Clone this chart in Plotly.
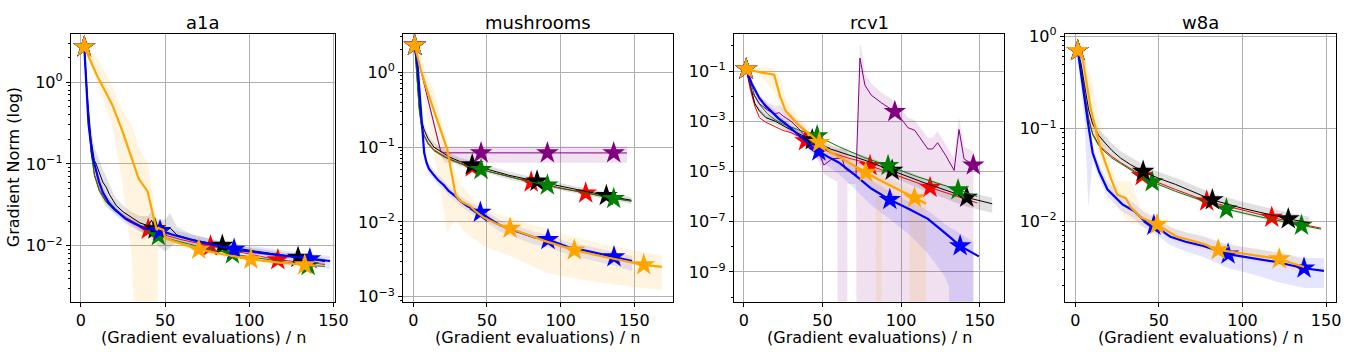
import plotly.graph_objects as go

# ---------------- a1a ----------------
a1a_red_x = [2, 4, 6, 8, 11, 15, 20, 27, 35, 40, 47, 60, 77, 95, 117, 135, 145]
a1a_red_y = [2.7, 0.5, 0.15, 0.075, 0.048, 0.035, 0.028, 0.022, 0.0178, 0.0158, 0.014, 0.0118, 0.0099, 0.0083, 0.0067, 0.0062, 0.0059]
a1a_red_stars = [0, 9, 12, 14]

a1a_green_x = [2, 4, 6, 8, 11, 15, 20, 27, 35, 40, 46, 60, 77, 90, 117, 135, 145]
a1a_green_y = [2.7, 0.48, 0.14, 0.072, 0.046, 0.034, 0.027, 0.0215, 0.0172, 0.0152, 0.0132, 0.011, 0.0091, 0.0079, 0.0065, 0.0057, 0.0056]
a1a_green_stars = [0, 10, 13, 15]

a1a_black_x = [2, 4, 6, 8, 9, 11, 13, 15, 17, 19, 21, 25, 30, 35, 40, 42, 44, 47, 50, 53, 57, 65, 84, 100, 129, 145]
a1a_black_y = [2.7, 0.6, 0.2, 0.11, 0.1, 0.075, 0.06, 0.052, 0.042, 0.036, 0.031, 0.026, 0.022, 0.019, 0.0175, 0.0205, 0.016, 0.0145, 0.0145, 0.0165, 0.0135, 0.012, 0.0101, 0.0088, 0.0072, 0.0064]
a1a_black_lo = [2.6, 0.45, 0.14, 0.07, 0.06, 0.045, 0.035, 0.03, 0.028, 0.026, 0.024, 0.021, 0.018, 0.015, 0.013, 0.012, 0.011, 0.0095, 0.0085, 0.0095, 0.011, 0.0105, 0.0093, 0.0081, 0.0066, 0.0059]
a1a_black_hi = [2.8, 0.8, 0.28, 0.16, 0.14, 0.11, 0.085, 0.07, 0.055, 0.045, 0.038, 0.031, 0.026, 0.023, 0.023, 0.027, 0.022, 0.02, 0.021, 0.025, 0.017, 0.014, 0.011, 0.0095, 0.0078, 0.007]
a1a_black_stars = [0, 16, 22, 24]

a1a_blue_x = [2, 3, 4.5, 6.8, 9, 10.8, 13, 16.6, 20, 26.5, 32, 38, 47, 55, 70, 91, 110, 136, 148]
a1a_blue_y = [2.7, 1.2, 0.31, 0.124, 0.08, 0.06, 0.045, 0.0334, 0.028, 0.0213, 0.0185, 0.0162, 0.0153, 0.0135, 0.0112, 0.009, 0.008, 0.0069, 0.0065]
a1a_blue_lo = [2.6, 1.0, 0.27, 0.105, 0.068, 0.051, 0.039, 0.029, 0.024, 0.0185, 0.016, 0.014, 0.0132, 0.0116, 0.0093, 0.0075, 0.0066, 0.0057, 0.0052]
a1a_blue_hi = [2.8, 1.4, 0.36, 0.145, 0.093, 0.07, 0.052, 0.038, 0.032, 0.0245, 0.021, 0.0186, 0.0176, 0.0156, 0.013, 0.0106, 0.0094, 0.0079, 0.0075]
a1a_blue_stars = [0, 12, 15, 17]

a1a_orange_x = [2, 10, 18.6, 24.5, 30, 34.3, 39.6, 45, 46, 49, 50, 60, 70, 85, 101, 118, 133, 140]
a1a_orange_y = [2.7, 1.15, 0.53, 0.257, 0.12, 0.066, 0.046, 0.0155, 0.0165, 0.0155, 0.0123, 0.0105, 0.009, 0.0078, 0.0068, 0.0062, 0.0058, 0.0057]
a1a_orange_lo = [2.6, 0.9, 0.3, 0.06, 0.008, 1e-4, 1e-4, 1e-4, 0.0095, 0.011, 0.0105, 0.0095, 0.0083, 0.0072, 0.0063, 0.0057, 0.0053, 0.0052]
a1a_orange_hi = [2.9, 1.9, 0.9, 0.45, 0.31, 0.16, 0.104, 0.02, 0.022, 0.019, 0.014, 0.0115, 0.0098, 0.0085, 0.0074, 0.0067, 0.0063, 0.0062]
a1a_orange_stars = [0, 12, 14, 16]

# ---------------- mushrooms ----------------
mush_red_x = [1, 2.5, 4, 5.5, 7.4, 10, 14, 20, 25, 32, 40, 50, 65, 80, 100, 117, 135, 148]
mush_red_y = [2.3, 1.0, 0.34, 0.2, 0.145, 0.115, 0.092, 0.078, 0.069, 0.061, 0.054, 0.048, 0.04, 0.034, 0.028, 0.0243, 0.0212, 0.019]
mush_red_stars = [0, 10, 13, 15]

mush_green_x = [1, 2.5, 4, 5.5, 7.4, 10, 14, 20, 25, 32, 40, 46, 65, 80, 91, 117, 136, 148]
mush_green_y = [2.3, 0.9, 0.32, 0.19, 0.14, 0.11, 0.09, 0.076, 0.068, 0.06, 0.053, 0.05, 0.04, 0.034, 0.031, 0.0243, 0.0205, 0.019]
mush_green_stars = [0, 11, 14, 16]

mush_black_x = [1, 2.5, 4, 5.5, 7.4, 10, 14, 20, 25, 32, 40, 50, 65, 84, 100, 131, 148]
mush_black_y = [2.3, 1.1, 0.38, 0.23, 0.17, 0.13, 0.1, 0.083, 0.073, 0.064, 0.058, 0.051, 0.042, 0.035, 0.03, 0.0225, 0.0195]
mush_black_lo = [2.2, 0.95, 0.32, 0.19, 0.14, 0.11, 0.087, 0.072, 0.064, 0.056, 0.051, 0.045, 0.037, 0.031, 0.027, 0.02, 0.0175]
mush_black_hi = [2.4, 1.25, 0.44, 0.27, 0.2, 0.15, 0.115, 0.095, 0.083, 0.072, 0.065, 0.057, 0.047, 0.039, 0.033, 0.025, 0.0215]
mush_black_stars = [0, 10, 13, 15]

mush_purple_x = [1, 5, 10, 15, 18.6, 21, 46, 91, 136, 145]
mush_purple_y = [2.3, 1.1, 0.43, 0.17, 0.088, 0.084, 0.0837, 0.0837, 0.0837, 0.0837]
mush_purple_lo = [2.2, 1.0, 0.38, 0.15, 0.08, 0.062, 0.062, 0.062, 0.062, 0.062]
mush_purple_hi = [2.4, 1.2, 0.48, 0.19, 0.1, 0.102, 0.102, 0.102, 0.102, 0.102]
mush_purple_stars = [0, 6, 7, 8]

mush_blue_x = [1, 3, 5, 6.3, 7.4, 9, 10.7, 14.1, 17, 20.8, 24, 28.7, 32, 36.6, 40, 45.5, 52, 59, 70, 82.4, 91.4, 105, 120, 136.2, 148.5]
mush_blue_y = [2.3, 1.2, 0.35, 0.152, 0.084, 0.062, 0.051, 0.042, 0.036, 0.031, 0.026, 0.022, 0.019, 0.0163, 0.015, 0.0134, 0.011, 0.009, 0.0075, 0.0062, 0.0058, 0.0046, 0.004, 0.0034, 0.003]
mush_blue_lo = [2.2, 1.0, 0.3, 0.13, 0.072, 0.053, 0.044, 0.036, 0.031, 0.027, 0.0225, 0.019, 0.0163, 0.014, 0.0127, 0.0112, 0.0091, 0.0074, 0.0061, 0.005, 0.0046, 0.0037, 0.0031, 0.0026, 0.0022]
mush_blue_hi = [2.4, 1.4, 0.41, 0.18, 0.1, 0.073, 0.06, 0.049, 0.042, 0.036, 0.03, 0.0255, 0.022, 0.019, 0.0175, 0.0157, 0.0129, 0.0106, 0.0088, 0.0073, 0.0068, 0.0054, 0.0047, 0.004, 0.0035]
mush_blue_stars = [0, 15, 20, 23]

mush_orange_x = [1, 5, 9.7, 15, 20, 23.1, 26, 28.7, 32, 38.7, 42, 47.7, 56, 65.7, 80, 90, 109.3, 130, 156.4, 168.7]
mush_orange_y = [2.3, 1.1, 0.55, 0.27, 0.14, 0.093, 0.045, 0.023, 0.019, 0.0163, 0.014, 0.0115, 0.0095, 0.0082, 0.0065, 0.0055, 0.0042, 0.0034, 0.00266, 0.0025]
mush_orange_lo = [2.2, 0.9, 0.25, 0.065, 0.017, 0.0072, 0.009, 0.0105, 0.0085, 0.0063, 0.0058, 0.0047, 0.0041, 0.0035, 0.0026, 0.0021, 0.00175, 0.0015, 0.0013, 0.00124]
mush_orange_hi = [2.4, 1.6, 0.9, 0.5, 0.2, 0.12, 0.07, 0.045, 0.033, 0.022, 0.019, 0.016, 0.013, 0.0115, 0.0092, 0.0082, 0.0063, 0.005, 0.0039, 0.0036]
mush_orange_stars = [0, 13, 16, 18]

# ---------------- rcv1 ----------------
rcv1_red_x = [1.5, 4, 7, 9.9, 14, 19, 24.6, 30, 35, 39.2, 45, 56, 66, 77, 80.2, 95, 118.4, 135, 148.4]
rcv1_red_y = [0.12, 0.02, 4e-3, 1.4e-3, 9.1e-4, 6.3e-4, 4.4e-4, 3.5e-4, 2.5e-4, 1.66e-4, 1.07e-4, 5.5e-5, 3.5e-5, 2.3e-5, 1.7e-5, 7.9e-6, 2.3e-6, 1.05e-6, 5.6e-7]
rcv1_red_stars = [0, 9, 14, 16]

rcv1_green_x = [1.5, 4, 7, 9.9, 15, 20, 24.6, 35, 46.6, 60, 77, 91.7, 110, 136.2, 148.4]
rcv1_green_y = [0.12, 0.04, 0.01, 4.7e-3, 2.0e-3, 1.12e-3, 7.9e-4, 4.5e-4, 2.6e-4, 1.0e-4, 3.5e-5, 1.7e-5, 6.3e-6, 1.86e-6, 1.02e-6]
rcv1_green_stars = [0, 8, 11, 13]

rcv1_black_x = [1.5, 4, 7, 9.9, 14, 20, 24.6, 30, 35, 43.5, 55, 77, 94.3, 115, 141.7, 157.9]
rcv1_black_y = [0.12, 0.025, 5e-3, 2.6e-3, 1.4e-3, 1.0e-3, 6.8e-4, 4.5e-4, 3.2e-4, 1.8e-4, 7.9e-5, 2.8e-5, 1.1e-5, 3.5e-6, 9.3e-7, 5.2e-7]
rcv1_black_lo = [0.11, 0.02, 4e-3, 2e-3, 1.1e-3, 7.5e-4, 5e-4, 3.3e-4, 2.3e-4, 1.2e-4, 5e-5, 1.6e-5, 6e-6, 1.7e-6, 4e-7, 2.3e-7]
rcv1_black_hi = [0.13, 0.032, 6.3e-3, 3.3e-3, 1.8e-3, 1.3e-3, 9e-4, 6e-4, 4.3e-4, 2.5e-4, 1.15e-4, 4.2e-5, 1.7e-5, 5.5e-6, 1.6e-6, 9e-7]
rcv1_black_stars = [0, 9, 12, 14]

rcv1_purple_x = [1.5, 5, 10, 15, 20, 22.5, 25, 30, 35, 40, 45, 48, 50.9, 56.1, 62.4, 64.5, 71.3, 73.8, 77, 81, 87.5, 96, 100, 104.4, 108.6, 113, 117, 120, 123.2, 128.5, 133.7, 136.8, 140, 145.9]
rcv1_purple_y = [0.12, 0.016, 5e-3, 2.8e-3, 2e-3, 2.2e-3, 1.6e-3, 1e-3, 5e-4, 2.2e-4, 1.1e-4, 5e-5, 1.8e-5, 3.2e-5, 3.5e-5, 1.26e-5, 6.6e-6, 0.33, 0.027, 0.011, 5.4e-3, 2.4e-3, 1.26e-3, 5.5e-4, 4.4e-4, 1.8e-4, 7.9e-5, 7.9e-5, 1.4e-4, 4.2e-5, 1.1e-5, 4.7e-4, 3.2e-5, 1.8e-5]
rcv1_purple_stars = [0, 21, 33]
rcv1_purple_band_x = [1.5, 5, 10, 15, 20, 22.5, 25, 30, 35, 40, 45, 48, 50.9, 56.1, 59.5, 59.6, 65.8, 65.9, 71.3, 71.7, 73.8, 74.5, 77, 81, 87.5, 96, 100, 104.4, 108.6, 113, 117, 120, 123.2, 128.5, 133.7, 136.8, 140, 145.9]
rcv1_purple_lo = [0.1, 8e-3, 2.5e-3, 1.4e-3, 1e-3, 1e-3, 8e-4, 5e-4, 2.5e-4, 1.1e-4, 5e-5, 2.2e-5, 8e-6, 5e-6, 4e-6, 1e-12, 1e-12, 3.2e-6, 3.2e-6, 1e-12,
                  1e-12, 1e-12, 1e-12, 1e-12, 1e-12, 1e-12, 1e-12, 1e-12, 1e-12, 1e-12, 1e-12, 1e-12, 1e-12, 1e-12, 1e-12, 1e-12, 1e-12, 1e-12]
rcv1_purple_hi = [0.14, 0.032, 0.01, 5.6e-3, 4e-3, 4.5e-3, 3.2e-3, 2e-3, 1e-3, 4.5e-4, 2.5e-4, 1.1e-4, 5e-5, 8e-5, 8e-5, 8e-5, 8e-5, 3.2e-5, 2e-5, 2e-5,
                  1.1, 1.0, 0.08, 0.032, 0.014, 6.3e-3, 3.2e-3, 1.4e-3, 1.1e-3, 4.5e-4, 2.2e-4, 2.2e-4, 4e-4, 1.1e-4, 3.5e-5, 1.4e-3, 1e-4, 6.3e-5]

rcv1_blue_x = [1.5, 5, 9.9, 14, 18.3, 22, 26.7, 31, 35.1, 40, 44.5, 47.7, 53, 60.3, 70, 81, 92.8, 105, 117, 128, 137.5, 149.4]
rcv1_blue_y = [0.12, 0.032, 8.3e-3, 4e-3, 2.2e-3, 1.3e-3, 7.9e-4, 4.7e-4, 2.8e-4, 1.6e-4, 8.5e-5, 6.5e-5, 4e-5, 2.3e-5, 7.9e-6, 2.1e-6, 7.6e-7, 3.2e-7, 1.3e-7, 3.5e-8, 1.1e-8, 4.2e-9]
rcv1_blue_stars = [0, 11, 16, 20]
rcv1_blue_band_x = [1.5, 5, 9.9, 14, 18.3, 22, 26.7, 31, 35.1, 40, 44.5, 47.7, 53, 60.3, 70, 81, 92.8, 105, 117, 128, 130.4, 130.5, 146]
rcv1_blue_lo = [0.1, 0.025, 6.3e-3, 2.8e-3, 1.6e-3, 8.9e-4, 5e-4, 2.8e-4, 1.6e-4, 8.5e-5, 4.2e-5, 3e-5, 1.6e-5, 7.9e-6, 2.2e-6, 4.5e-7, 1.26e-7, 3.2e-8, 5.6e-9, 6.3e-10, 2.5e-10, 1e-12, 1e-12]
rcv1_blue_hi = [0.14, 0.045, 0.011, 5.6e-3, 3.2e-3, 1.9e-3, 1.1e-3, 7e-4, 4.5e-4, 2.5e-4, 1.4e-4, 1.1e-4, 7e-5, 4.5e-5, 1.6e-5, 4.5e-6, 1.6e-6, 6.3e-7, 2.8e-7, 7.9e-8, 6.3e-8, 6.3e-8, 1.6e-8]

rcv1_orange_x = [1.5, 10, 19.3, 23, 26.6, 35, 43.5, 48, 56, 66.6, 77.5, 85, 95, 108.5, 115.9]
rcv1_orange_y = [0.12, 0.089, 0.071, 0.01, 2.6e-3, 6.8e-4, 2.5e-4, 1.4e-4, 5.5e-5, 2.3e-5, 9.3e-6, 5e-6, 2.4e-6, 8.9e-7, 5.2e-7]
rcv1_orange_stars = [0, 7, 10, 13]
rcv1_orange_band_x = [1.5, 10, 19.3, 23, 26.6, 35, 43.5, 48, 56, 66.6, 77.5, 83.9, 84, 87.5, 87.6, 95, 105.3, 105.4, 108.5, 115.9]
rcv1_orange_lo = [0.11, 0.07, 0.015, 4e-3, 1.2e-3, 3.6e-4, 1.3e-4, 7e-5, 2.5e-5, 9e-6, 3.5e-6, 2e-6, 1e-12, 1e-12, 1.5e-6, 8e-7, 3e-7, 1e-12, 1e-12, 1e-12]
rcv1_orange_hi = [0.14, 0.14, 0.13, 0.05, 8e-3, 1.3e-3, 4.5e-4, 2.5e-4, 1e-4, 4e-5, 1.6e-5, 1e-5, 1e-5, 7.5e-6, 7.5e-6, 4.5e-6, 2.2e-6, 2.2e-6, 1.7e-6, 1e-6]

# ---------------- w8a ----------------
w8a_red_x = [1.5, 3.5, 5.5, 8, 10.4, 14, 17.3, 22, 27.2, 33, 40, 50, 60, 78.6, 100, 117.5, 135, 147]
w8a_red_y = [0.7, 0.45, 0.25, 0.13, 0.089, 0.068, 0.059, 0.05, 0.043, 0.037, 0.031, 0.026, 0.022, 0.0165, 0.0131, 0.011, 0.0093, 0.0084]
w8a_red_stars = [0, 10, 13, 15]

w8a_green_x = [1.5, 3.5, 5.5, 8, 10.4, 14, 17.3, 22, 27.2, 33, 40, 46, 60, 78, 90.4, 110, 135.3, 147]
w8a_green_y = [0.7, 0.44, 0.24, 0.125, 0.086, 0.066, 0.057, 0.048, 0.042, 0.036, 0.03, 0.0266, 0.021, 0.0162, 0.0135, 0.0112, 0.009, 0.0082]
w8a_green_stars = [0, 11, 14, 16]

w8a_black_x = [1.5, 3.5, 5.5, 8, 10.4, 14, 17.3, 22, 27.2, 33, 40.6, 50, 60, 82, 100, 127.4, 140]
w8a_black_y = [0.7, 0.5, 0.3, 0.16, 0.113, 0.085, 0.072, 0.058, 0.048, 0.041, 0.0345, 0.029, 0.025, 0.017, 0.0138, 0.0106, 0.0096]
w8a_black_lo = [0.66, 0.43, 0.25, 0.135, 0.095, 0.072, 0.061, 0.049, 0.041, 0.035, 0.029, 0.0245, 0.021, 0.0145, 0.0118, 0.0091, 0.0083]
w8a_black_hi = [0.74, 0.58, 0.36, 0.19, 0.135, 0.1, 0.086, 0.069, 0.057, 0.049, 0.041, 0.034, 0.0295, 0.02, 0.0162, 0.0124, 0.0112]
w8a_black_stars = [0, 10, 13, 15]

w8a_blue_x = [1.5, 3.5, 5.5, 7.9, 10.4, 14.4, 19.3, 24, 28.2, 35.1, 41, 47, 56.9, 66, 76.6, 91.4, 105, 121, 136.8, 148.7]
w8a_blue_y = [0.7, 0.38, 0.198, 0.107, 0.055, 0.034, 0.022, 0.018, 0.0152, 0.0129, 0.0102, 0.009, 0.0068, 0.006, 0.0054, 0.0044, 0.004, 0.0036, 0.0031, 0.0029]
w8a_blue_lo = [0.65, 0.3, 0.12, 0.014, 0.045, 0.028, 0.0185, 0.015, 0.0127, 0.0107, 0.0085, 0.0074, 0.0055, 0.0047, 0.0041, 0.0031, 0.0027, 0.0022, 0.0019, 0.0019]
w8a_blue_hi = [0.75, 0.45, 0.24, 0.125, 0.066, 0.041, 0.027, 0.022, 0.0185, 0.0157, 0.0125, 0.011, 0.0086, 0.0076, 0.0069, 0.0056, 0.0051, 0.0046, 0.004, 0.004]
w8a_blue_stars = [0, 11, 15, 18]

w8a_orange_x = [1.5, 4.5, 9.5, 15.4, 21.3, 25.2, 30.2, 33.2, 39.1, 48.9, 60.7, 76.6, 85.5, 100, 122, 136.8]
w8a_orange_y = [0.7, 0.56, 0.156, 0.059, 0.029, 0.0193, 0.0178, 0.0141, 0.011, 0.0092, 0.0068, 0.0057, 0.0049, 0.0045, 0.0039, 0.0032]
w8a_orange_lo = [0.66, 0.45, 0.11, 0.042, 0.021, 0.014, 0.0105, 0.0094, 0.009, 0.0078, 0.0058, 0.0049, 0.0042, 0.0038, 0.0033, 0.0027]
w8a_orange_hi = [0.75, 0.7, 0.35, 0.1, 0.04, 0.027, 0.027, 0.027, 0.014, 0.011, 0.0081, 0.0067, 0.0058, 0.0053, 0.0046, 0.0038]
w8a_orange_stars = [0, 9, 12, 14]

titles = ["a1a", "mushrooms", "rcv1", "w8a"]

W, H = 1360, 352
FONT = "DejaVu Sans"

fig = go.Figure()


def band(ax, x, lo, hi, rgba):
    fig.add_trace(go.Scatter(x=x, y=lo, mode="lines", line=dict(width=0), xaxis="x" + ax, yaxis="y" + ax,
                             showlegend=False, hoverinfo="skip"))
    fig.add_trace(go.Scatter(x=x, y=hi, mode="lines", line=dict(width=0), fill="tonexty", fillcolor=rgba,
                             xaxis="x" + ax, yaxis="y" + ax, showlegend=False, hoverinfo="skip"))


def run(ax, x, y, stars, color, width):
    fig.add_trace(go.Scatter(x=x, y=y, mode="lines", line=dict(color=color, width=width),
                             xaxis="x" + ax, yaxis="y" + ax, showlegend=False))
    fig.add_trace(go.Scatter(x=[x[i] for i in stars], y=[y[i] for i in stars], mode="markers",
                             marker=dict(symbol="star", size=17, color=color, line=dict(width=0)),
                             xaxis="x" + ax, yaxis="y" + ax, showlegend=False))


GREY_B = "rgba(0,0,0,0.12)"
BLUE_B = "rgba(0,0,255,0.1)"
ORNG_B = "rgba(255,165,0,0.12)"
PURP_B = "rgba(128,0,128,0.12)"

# a1a
band("", a1a_black_x, a1a_black_lo, a1a_black_hi, GREY_B)
band("", a1a_blue_x, a1a_blue_lo, a1a_blue_hi, BLUE_B)
band("", a1a_orange_x, a1a_orange_lo, a1a_orange_hi, ORNG_B)
run("", a1a_red_x, a1a_red_y, a1a_red_stars, "red", 1)
run("", a1a_black_x, a1a_black_y, a1a_black_stars, "black", 1)
run("", a1a_green_x, a1a_green_y, a1a_green_stars, "green", 1)
run("", a1a_blue_x, a1a_blue_y, a1a_blue_stars, "blue", 2.2)
run("", a1a_orange_x, a1a_orange_y, a1a_orange_stars, "orange", 2.2)

# mushrooms
band("2", mush_black_x, mush_black_lo, mush_black_hi, GREY_B)
band("2", mush_purple_x, mush_purple_lo, mush_purple_hi, PURP_B)
band("2", mush_blue_x, mush_blue_lo, mush_blue_hi, BLUE_B)
band("2", mush_orange_x, mush_orange_lo, mush_orange_hi, ORNG_B)
run("2", mush_red_x, mush_red_y, mush_red_stars, "red", 1)
run("2", mush_black_x, mush_black_y, mush_black_stars, "black", 1)
run("2", mush_green_x, mush_green_y, mush_green_stars, "green", 1)
run("2", mush_purple_x, mush_purple_y, mush_purple_stars, "purple", 1)
run("2", mush_blue_x, mush_blue_y, mush_blue_stars, "blue", 2.2)
run("2", mush_orange_x, mush_orange_y, mush_orange_stars, "orange", 2.2)

# rcv1
band("3", rcv1_black_x, rcv1_black_lo, rcv1_black_hi, GREY_B)
band("3", rcv1_purple_band_x, rcv1_purple_lo, rcv1_purple_hi, PURP_B)
band("3", rcv1_blue_band_x, rcv1_blue_lo, rcv1_blue_hi, BLUE_B)
band("3", rcv1_orange_band_x, rcv1_orange_lo, rcv1_orange_hi, ORNG_B)
run("3", rcv1_red_x, rcv1_red_y, rcv1_red_stars, "red", 1)
run("3", rcv1_black_x, rcv1_black_y, rcv1_black_stars, "black", 1)
run("3", rcv1_green_x, rcv1_green_y, rcv1_green_stars, "green", 1)
run("3", rcv1_purple_x, rcv1_purple_y, rcv1_purple_stars, "purple", 1)
run("3", rcv1_blue_x, rcv1_blue_y, rcv1_blue_stars, "blue", 2.2)
run("3", rcv1_orange_x, rcv1_orange_y, rcv1_orange_stars, "orange", 2.2)

# w8a
band("4", w8a_black_x, w8a_black_lo, w8a_black_hi, GREY_B)
band("4", w8a_blue_x, w8a_blue_lo, w8a_blue_hi, BLUE_B)
band("4", w8a_orange_x, w8a_orange_lo, w8a_orange_hi, ORNG_B)
run("4", w8a_red_x, w8a_red_y, w8a_red_stars, "red", 1)
run("4", w8a_green_x, w8a_green_y, w8a_green_stars, "green", 1)
run("4", w8a_black_x, w8a_black_y, w8a_black_stars, "black", 1)
run("4", w8a_blue_x, w8a_blue_y, w8a_blue_stars, "blue", 2.2)
run("4", w8a_orange_x, w8a_orange_y, w8a_orange_stars, "orange", 2.2)

# panel geometry in pixels: (left, right), x range, y range (log10), major y decades
panels = [
    ((71.5, 338.5), [-6.0, 151.1], [-2.684, 0.593], [0, -1, -2]),
    ((407, 679), [-6.9, 175.9], [-3.066, 0.519], [0, -1, -2, -3]),
    ((741, 1014), [-6.3, 165.6], [-10.18, 0.49], [-1, -3, -5, -7, -9]),
    ((1075, 1349), [-6.3, 156.0], [-2.87, 0.029], [0, -1, -2]),
]
top_px, bot_px = 26.5, 304

layout = dict(width=W, height=H, margin=dict(l=0, r=0, t=0, b=0),
              paper_bgcolor="white", plot_bgcolor="white",
              font=dict(family=FONT, size=16, color="black"), annotations=[])

for k, ((l, r), xr, yr, decs) in enumerate(panels):
    sfx = "" if k == 0 else str(k + 1)
    lo_d, hi_d = int(yr[0]) - 1, int(yr[1]) + 1
    minor_vals = [m * 10 ** d for d in range(lo_d, hi_d + 1) for m in range(2, 10)]
    if k == 2:
        minor_vals = [10 ** d for d in range(-10, 1) if d not in decs]
    layout["xaxis" + sfx] = dict(domain=[l / W, r / W], range=xr, anchor="y" + sfx,
                                 tickvals=[0, 50, 100, 150], ticks="outside", ticklen=4, tickcolor="black",
                                 showline=True, linecolor="black", linewidth=1, mirror=True,
                                 showgrid=True, gridcolor="#b0b0b0", gridwidth=0.8, zeroline=False,
                                 tickfont=dict(size=16))
    layout["yaxis" + sfx] = dict(domain=[1 - bot_px / H, 1 - top_px / H], range=yr, type="log",
                                 anchor="x" + sfx,
                                 tickvals=[10 ** d for d in decs],
                                 ticktext=["10<sup>%s</sup>" % (str(d).replace("-", "−")) for d in decs],
                                 ticks="outside", ticklen=4, tickcolor="black",
                                 showline=True, linecolor="black", linewidth=1, mirror=True,
                                 showgrid=True, gridcolor="#b0b0b0", gridwidth=0.8, zeroline=False,
                                 tickfont=dict(size=16),
                                 minor=dict(tickmode="array", tickvals=minor_vals, ticks="outside",
                                            ticklen=2, tickcolor="black", showgrid=False))
    cx = (l + r) / 2 / W
    layout["annotations"].append(dict(text=titles[k], x=cx, y=1 - 15 / H, xref="paper", yref="paper",
                                      showarrow=False, font=dict(size=18), xanchor="center", yanchor="middle"))
    layout["annotations"].append(dict(text="(Gradient evaluations) / n", x=cx, y=1 - 341 / H,
                                      xref="paper", yref="paper", showarrow=False, font=dict(size=16),
                                      xanchor="center", yanchor="middle"))

layout["annotations"].append(dict(text="Gradient Norm (log)", x=14 / W, y=1 - 165 / H, xref="paper", yref="paper",
                                  showarrow=False, textangle=-90, font=dict(size=16),
                                  xanchor="center", yanchor="middle"))

fig.update_layout(**layout)
# remove the default page margin so the figure sits at the window's top-left corner
fig.write_html("out.html", config={"displayModeBar": False},
               post_script="document.body.style.margin='0';")
